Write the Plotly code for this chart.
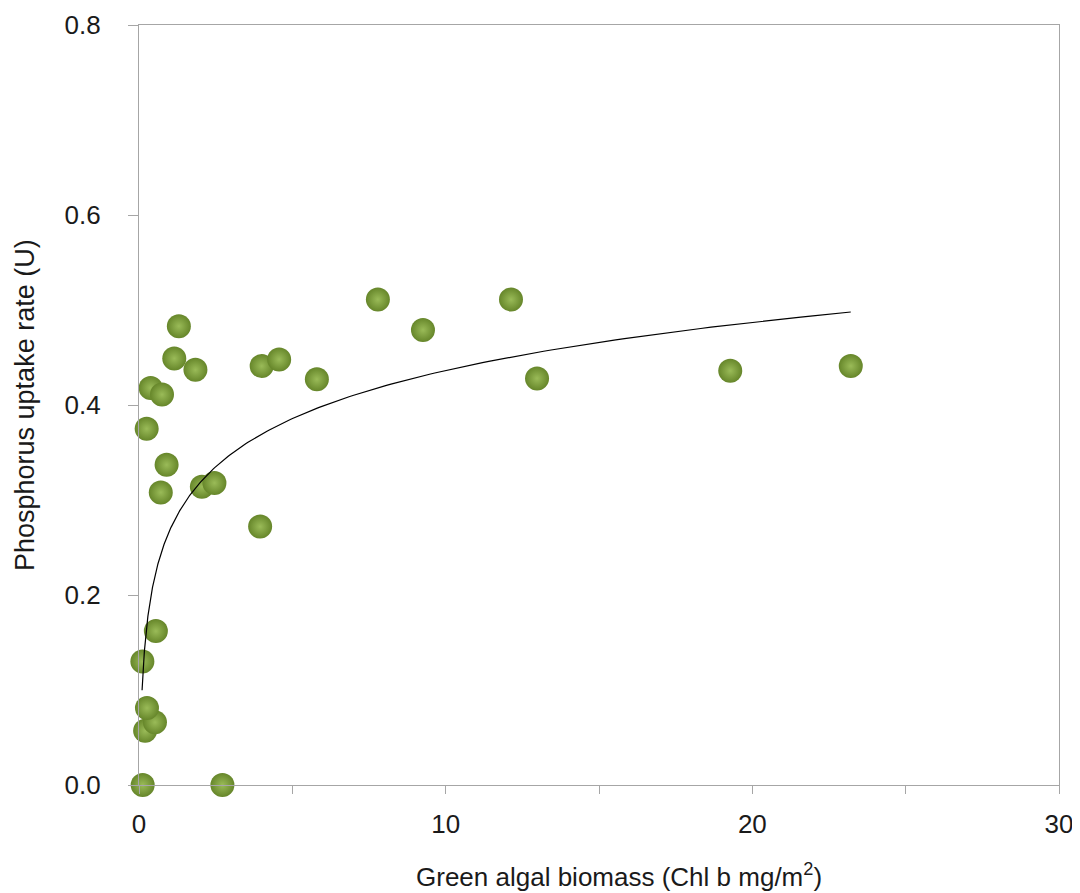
import numpy as np
import plotly.graph_objects as go

# Data
biomass = [0.12, 2.72, 0.20, 0.52, 0.26, 0.11, 0.55, 0.25, 0.38, 0.75, 0.90, 0.71,
           1.15, 1.30, 1.84, 2.05, 2.46, 3.95, 4.00, 4.57, 5.80, 7.79, 9.26, 12.13,
           12.98, 19.28, 23.21]
uptake = [0.000, 0.000, 0.057, 0.066, 0.081, 0.130, 0.162, 0.375, 0.418, 0.411,
          0.337, 0.308, 0.449, 0.483, 0.437, 0.314, 0.318, 0.272, 0.441, 0.448,
          0.427, 0.511, 0.479, 0.511, 0.428, 0.436, 0.441]

x_ticks = [0, 5, 10, 15, 20, 25, 30]
x_labels = ["0", "", "10", "", "20", "", "30"]
y_ticks = [0.0, 0.2, 0.4, 0.6, 0.8]
y_labels = ["0.0", "0.2", "0.4", "0.6", "0.8"]

# Logarithmic trendline y = a*ln(x) + b, coefficients
trend_a = 0.0731
trend_b = 0.268
trend_x_min = 0.10
trend_x_max = 23.21

tx = np.geomspace(trend_x_min, trend_x_max, 300)
ty = trend_a * np.log(tx) + trend_b

FONT = "Liberation Sans, Arial, sans-serif"
TXT = "#1a1a1a"
AX = "#a6a6a6"

fig = go.Figure()
fig.add_trace(go.Scatter(
    x=biomass, y=uptake, mode="markers",
    marker=dict(size=24, color="#66862A",
                gradient=dict(type="radial", color="#9ABB58"),
                line=dict(width=0)),
    showlegend=False, cliponaxis=False,
))
fig.add_trace(go.Scatter(
    x=tx, y=ty, mode="lines",
    line=dict(color="black", width=1.2),
    showlegend=False,
))

# page body has an 8px margin: figure placed at (8, 8)
fig.update_layout(
    width=1072, height=885,
    margin=dict(l=131, r=21, t=17, b=108, autoexpand=False),
    paper_bgcolor="white", plot_bgcolor="white",
    font=dict(family=FONT, size=26, color=TXT),
    xaxis=dict(range=[0, 30], tickvals=x_ticks, ticktext=x_labels,
               showgrid=False, zeroline=False, automargin=False,
               showline=True, linecolor=AX, linewidth=1.3, mirror=True,
               ticks="outside", ticklen=8, tickcolor=AX, tickwidth=1.3,
               ticklabelstandoff=8),
    yaxis=dict(range=[0, 0.8], tickvals=y_ticks, ticktext=y_labels,
               showgrid=False, zeroline=False, automargin=False,
               showline=True, linecolor=AX, linewidth=1.3, mirror=True,
               ticks="outside", ticklen=10, tickcolor=AX, tickwidth=1.3,
               ticklabelstandoff=22),
    annotations=[
        dict(text="Green algal biomass (Chl b mg/m<sup>2</sup>)",
             xref="paper", yref="paper", x=0.5217, y=-0.1197,
             xanchor="center", yanchor="middle", showarrow=False,
             font=dict(family=FONT, size=26, color=TXT)),
        dict(text="Phosphorus uptake rate (U)",
             xref="paper", yref="paper", x=-0.1239, y=0.5,
             xanchor="center", yanchor="middle", textangle=-90, showarrow=False,
             font=dict(family=FONT, size=27, color=TXT)),
    ],
)

fig.write_html("out.html")
